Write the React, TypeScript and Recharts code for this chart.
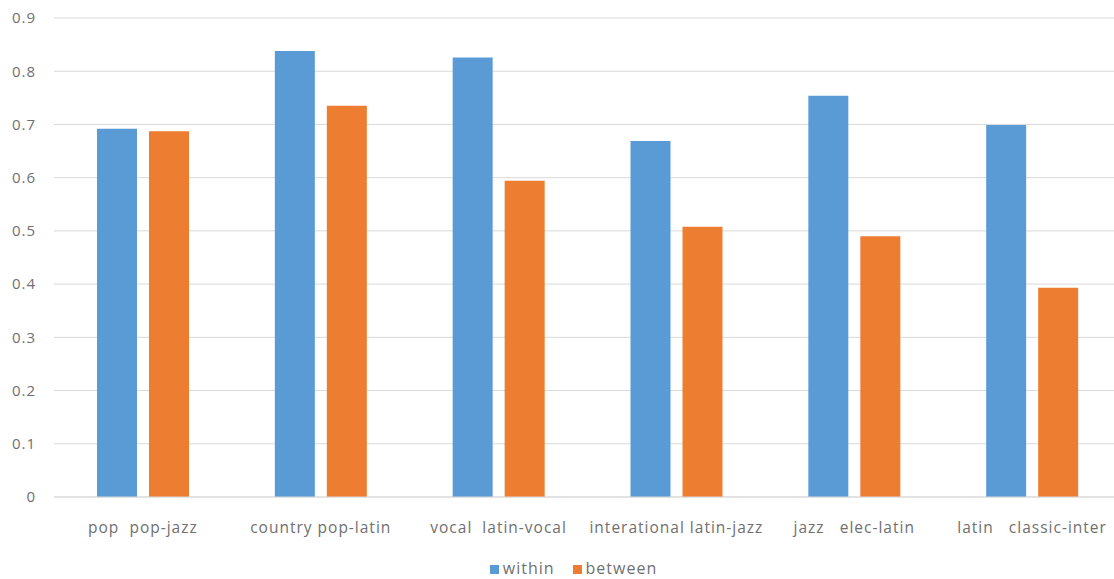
import React from "react";
import { BarChart, Bar, XAxis, YAxis, CartesianGrid, Legend } from "recharts";

const categories = [
  "pop  pop-jazz",
  "country pop-latin",
  "vocal  latin-vocal",
  "interational latin-jazz",
  "jazz   elec-latin",
  "latin   classic-inter",
];
const withinValues = [0.692, 0.838, 0.826, 0.669, 0.754, 0.699];
const betweenValues = [0.687, 0.735, 0.594, 0.508, 0.49, 0.393];
const yTicks = [0, 0.1, 0.2, 0.3, 0.4, 0.5, 0.6, 0.7, 0.8, 0.9];
const seriesNames = ["within", "between"];

const data = categories.map((c, i) => ({
  category: c,
  within: withinValues[i],
  between: betweenValues[i],
}));

const FONT = "'Open Sans', sans-serif";
const TEXT = "#707070";

const CategoryTick = (props: any) => {
  const { x, y, payload } = props;
  return (
    <text
      x={x}
      y={y + 24}
      textAnchor="middle"
      dominantBaseline="middle"
      fill={TEXT}
      fontSize={15.5}
      letterSpacing={1}
      fontFamily={FONT}
      style={{ whiteSpace: "pre" }}
    >
      {payload.value}
    </text>
  );
};

export default function App() {
  return (
    <div style={{ position: "absolute", left: 0, top: 0, width: 1114, height: 579, overflow: "hidden", background: "#fff" }}>
      <BarChart
        width={1125}
        height={579}
        data={data}
        margin={{ top: 18, right: 4, left: 0, bottom: 8 }}
        barCategoryGap={43}
        barGap={12}
      >
        <CartesianGrid vertical={false} stroke="#D9D9D9" />
        <XAxis
          dataKey="category"
          tick={<CategoryTick />}
          tickLine={false}
          axisLine={{ stroke: "#D9D9D9" }}
          height={50}
          interval={0}
        />
        <YAxis
          domain={[0, 0.9]}
          ticks={yTicks}
          axisLine={false}
          tickLine={false}
          width={54}
          tickMargin={12}
          tick={{ fill: TEXT, fontSize: 15, fontFamily: FONT, letterSpacing: 1 }}
        />
        <Legend
          verticalAlign="bottom"
          height={24}
          iconType="square"
          iconSize={9}
          itemSorter={(item: any) => seriesNames.indexOf(item.value)}
          wrapperStyle={{ bottom: -2, paddingLeft: 18, fontFamily: FONT, fontSize: 16, letterSpacing: 1 }}
          formatter={(v: any) => (
            <span style={{ color: TEXT, paddingRight: v === seriesNames[0] ? 8 : 0 }}>{v}</span>
          )}
        />
        <Bar dataKey="within" name={seriesNames[0]} fill="#5B9BD5" isAnimationActive={false} />
        <Bar dataKey="between" name={seriesNames[1]} fill="#ED7D31" isAnimationActive={false} />
      </BarChart>
    </div>
  );
}
